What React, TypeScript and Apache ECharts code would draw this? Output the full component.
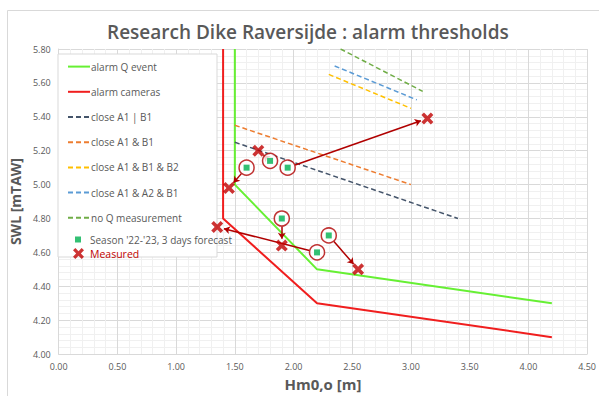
import React, { useEffect, useRef } from "react";
import * as echarts from "echarts";

const TITLE = "Research Dike Raversijde : alarm thresholds";
const X_NAME = "Hm0,o [m]";
const Y_NAME = "SWL [mTAW]";

// threshold lines [Hm0, SWL]
const alarmQEvent = [[1.5, 5.8], [1.5, 5.0], [2.2, 4.5], [4.2, 4.3]];
const alarmCameras = [[1.4, 5.8], [1.4, 4.8], [2.2, 4.3], [4.2, 4.1]];
const closeA1orB1 = [[1.5, 5.25], [3.4, 4.8]];
const closeA1andB1 = [[1.5, 5.35], [3.0, 5.0]];
const closeA1B1B2 = [[2.3, 5.65], [3.0, 5.45]];
const closeA1A2B1 = [[2.35, 5.7], [3.05, 5.5]];
const noQMeasurement = [[2.4, 5.8], [3.1, 5.55]];

// forecast points and corresponding measured points (same index)
const forecast = [[1.6, 5.1], [1.8, 5.14], [1.95, 5.1], [1.9, 4.8], [2.2, 4.6], [2.3, 4.7]];
const measured = [[1.45, 4.98], [1.7, 5.2], [3.14, 5.39], [1.9, 4.64], [1.35, 4.75], [2.55, 4.5]];

const lineSeries = [
  { name: "alarm Q event", data: alarmQEvent, color: "#66F033", width: 2, dashed: false },
  { name: "alarm cameras", data: alarmCameras, color: "#F01E1E", width: 2, dashed: false },
  { name: "close A1 | B1", data: closeA1orB1, color: "#44546A", width: 1.5, dashed: true },
  { name: "close A1 & B1", data: closeA1andB1, color: "#ED7D31", width: 1.5, dashed: true },
  { name: "close A1 & B1 & B2", data: closeA1B1B2, color: "#FFC000", width: 1.5, dashed: true },
  { name: "close A1 & A2 & B1", data: closeA1A2B1, color: "#5B9BD5", width: 1.5, dashed: true },
  { name: "no Q measurement", data: noQMeasurement, color: "#70AD47", width: 1.5, dashed: true },
];

const X_SYMBOL =
  "path://M3,0 L7,4 L11,0 L14,3 L10,7 L14,11 L11,14 L7,10 L3,14 L0,11 L4,7 L0,3 Z";

const TXT = "#595959";
const FONT = "'Open Sans', 'Noto Sans', sans-serif";

export default function App() {
  const ref = useRef<HTMLDivElement>(null);
  useEffect(() => {
    if (!ref.current) return;
    const chart = echarts.init(ref.current, null, { renderer: "svg" });

    // approximate px per data unit, only to trim arrows to marker edges
    const pxX = 535 / 4.5;
    const pxY = 308 / 1.8;
    const arrows = forecast.map((f, i) => {
      const m = measured[i];
      const dx = (m[0] - f[0]) * pxX;
      const dy = (m[1] - f[1]) * pxY;
      const len = Math.sqrt(dx * dx + dy * dy);
      const s = 8 / len;
      const e = 1 - 7 / len;
      return {
        coords: [
          [f[0] + (m[0] - f[0]) * s, f[1] + (m[1] - f[1]) * s],
          [f[0] + (m[0] - f[0]) * e, f[1] + (m[1] - f[1]) * e],
        ],
      };
    });

    const option: any = {
      animation: false,
      textStyle: { fontFamily: FONT },
      title: {
        text: TITLE,
        left: 102,
        top: 17,
        textStyle: { fontSize: 19, fontWeight: 600, color: TXT, fontFamily: FONT },
      },
      grid: { left: 56, right: 8, top: 49, bottom: 39 },
      xAxis: {
        type: "value",
        min: 0,
        max: 4.5,
        interval: 0.5,
        name: X_NAME,
        nameLocation: "middle",
        nameGap: 21,
        nameTextStyle: { fontSize: 15, fontWeight: "bold", color: TXT, fontFamily: FONT },
        axisLine: { show: true, lineStyle: { color: "#D9D9D9" } },
        axisTick: { show: false },
        axisLabel: { color: TXT, fontSize: 9, formatter: (v: number) => v.toFixed(2), margin: 8 },
        splitLine: { show: true, lineStyle: { color: "#D9D9D9" } },
        minorTick: { show: false, splitNumber: 5 },
        minorSplitLine: { show: true, lineStyle: { color: "#F0F0F0" } },
      },
      yAxis: {
        type: "value",
        min: 4.0,
        max: 5.8,
        interval: 0.2,
        name: Y_NAME,
        nameLocation: "middle",
        nameGap: 27,
        nameTextStyle: { fontSize: 14, fontWeight: "bold", color: TXT, fontFamily: FONT },
        axisLine: { show: true, lineStyle: { color: "#D9D9D9" } },
        axisTick: { show: false },
        axisLabel: { color: TXT, fontSize: 9, formatter: (v: number) => v.toFixed(2), margin: 8 },
        splitLine: { show: true, lineStyle: { color: "#D9D9D9" } },
        minorTick: { show: false, splitNumber: 5 },
        minorSplitLine: { show: true, lineStyle: { color: "#F0F0F0" } },
      },
      legend: [
        {
          orient: "vertical",
          left: 67,
          top: 61,
          padding: 0,
          itemWidth: 22,
          itemHeight: 14,
          itemGap: 14.0,
          itemStyle: { opacity: 0 },
          textStyle: { color: TXT, fontSize: 10, padding: [0, 0, 0, -4] },
          data: lineSeries.map((s) => s.name),
        },
        {
          orient: "vertical",
          left: 75,
          top: 234,
          padding: 0,
          itemWidth: 6,
          itemHeight: 6,
          textStyle: { color: TXT, fontSize: 10, lineHeight: 11, padding: [0, 0, 0, 4] },
          data: ["Season '22-'23, 3 days forecast"],
        },
        {
          orient: "vertical",
          left: 73,
          top: 248,
          padding: 0,
          itemWidth: 11,
          itemHeight: 11,
          textStyle: { color: "#C00000", fontSize: 10.5, lineHeight: 11, padding: [0, 0, 0, 1] },
          data: ["Measured"],
        },
      ],
      graphic: [
        {
          type: "rect",
          z: 1,
          shape: { x: 58, y: 54, width: 159, height: 203 },
          style: { fill: "#fff", stroke: "#D9D9D9", lineWidth: 1 },
        },
        {
          type: "rect",
          z: 0,
          silent: true,
          shape: { x: 7.5, y: 10.5, width: 620, height: 420 },
          style: { fill: "none", stroke: "#D9D9D9", lineWidth: 1 },
        },
      ],
      series: [
        ...lineSeries.map((s) => ({
          name: s.name,
          type: "line",
          data: s.data,
          symbol: "none",
          z: 3,
          color: s.color,
          lineStyle: { color: s.color, width: s.width, type: s.dashed ? [5, 3] : "solid" },
        })),
        {
          name: "arrows",
          type: "lines",
          coordinateSystem: "cartesian2d",
          z: 4,
          symbol: ["none", "arrow"],
          symbolSize: 6,
          lineStyle: { color: "#B00000", width: 1.5, opacity: 1 },
          data: arrows,
        },
        {
          name: "rings",
          type: "scatter",
          data: forecast,
          symbol: "circle",
          symbolSize: 15,
          z: 5,
          itemStyle: { color: "#ffffff", borderColor: "#B00000", borderWidth: 1.5 },
        },
        {
          name: "Season '22-'23, 3 days forecast",
          type: "scatter",
          data: forecast,
          symbol: "rect",
          symbolSize: 6,
          z: 6,
          itemStyle: { color: "#00B050" },
        },
        {
          name: "Measured",
          type: "scatter",
          data: measured,
          symbol: X_SYMBOL,
          symbolSize: 12,
          z: 6,
          itemStyle: { color: "#C00000" },
        },
      ],
    };
    chart.setOption(option);
    return () => chart.dispose();
  }, []);

  return (
    <div
      ref={ref}
      style={{ position: "fixed", left: 0, top: 0, width: 599, height: 396, background: "#fff" }}
    />
  );
}
